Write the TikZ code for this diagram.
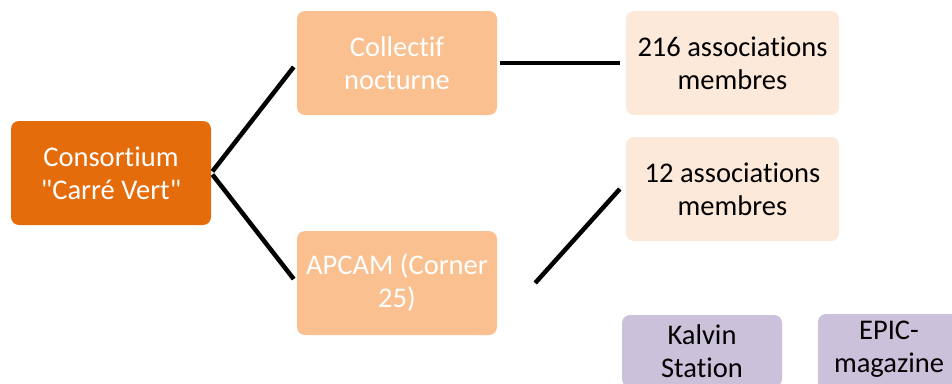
\documentclass[tikz,border=0pt]{standalone}
\usepackage{fontspec}
\setmainfont[Ligatures={TeXOff,NoCommon}]{Carlito}
\usetikzlibrary{calc}
\definecolor{cdark}{HTML}{E46C0A}
\definecolor{cmid}{HTML}{FAC090}
\definecolor{cpale}{HTML}{FDE9D9}
\definecolor{cpurp}{HTML}{CCC1DA}
\tikzset{
  box/.style={rounded corners=8pt, minimum width=200pt, minimum height=104pt, align=center, inner sep=2pt, font=\fontsize{28.5}{33}\selectfont},
  dark/.style={box, fill=cdark, text=white},
  mid/.style={box, fill=cmid, text=white},
  pale/.style={box, fill=cpale, text=black, minimum width=213pt},
  purp/.style={box, fill=cpurp, text=black, minimum width=160pt, minimum height=72pt},
  link/.style={line width=4.5pt, black}
}
\begin{document}
\begin{tikzpicture}[x=1pt,y=-1pt]
\useasboundingbox (0,0) rectangle (952,383);
\clip (0,0) rectangle (952,383);
\node[dark] (cons) at (111,173) {Consortium\\"Carré Vert"};
\node[mid] (coll) at (397,63) {Collectif\\nocturne};
\node[mid] (apcam) at (397,283) {APCAM (Corner\\25)};
\node[pale] (m216) at (732.5,63) {216 associations\\membres};
\node[pale] (m12) at (732.5,189) {12 associations\\membres};
\node[purp] (kalvin) at (702,351) {Kalvin\\Station};
\fill[cpurp, rounded corners=8pt] (818,314) rectangle (990,420);
\node[purp, fill=none] (epic) at (889,349) {EPIC-\\magazine};
\draw[link, shorten <=2pt, shorten >=5pt] (cons.east) -- (coll.west);
\draw[link, shorten <=2pt, shorten >=5pt] (cons.east) -- (apcam.west);
\draw[link, shorten <=3pt, shorten >=6pt] (coll.east) -- (m216.west);
\draw[link] ($(apcam.east)+(38,0)$) -- ($(m12.west)+(-6,0)$);
\end{tikzpicture}
\end{document}
